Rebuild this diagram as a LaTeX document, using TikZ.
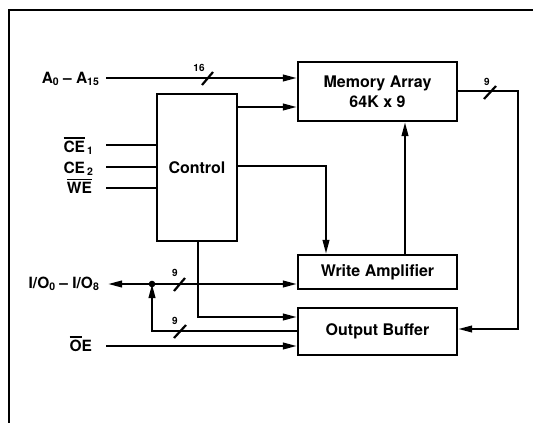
\documentclass[tikz,border=0pt]{standalone}
\usepackage{fontspec}
\setmainfont{TeX Gyre Heros}
\usetikzlibrary{arrows.meta,calc}
\newcommand{\ovl}[1]{\setbox0\hbox{#1}\makebox[0pt][l]{\rule[\dimexpr\ht0+1.6pt\relax]{\wd0}{1.5pt}}\box0}
\newcommand{\sbs}[1]{\raisebox{-0.35ex}{\fontsize{10.5}{10}\selectfont #1}}
\begin{document}
\begin{tikzpicture}[x=1pt,y=-1pt,line width=2.2pt,
  box/.style={draw,line width=2.2pt,inner sep=0pt,font=\fontsize{16}{20}\selectfont\bfseries,align=center},
  arr/.style={-{Triangle[length=14pt,width=6.5pt]}},
  lbl/.style={font=\fontsize{15.5}{18}\selectfont\bfseries,inner sep=0pt,anchor=base east},
  num/.style={font=\fontsize{10}{10}\selectfont\bfseries,inner sep=0pt}]
\useasboundingbox (0,0) rectangle (533,423);
% frame (top and left edges only)
\draw (9,423) -- (9,10) -- (533,10);
% blocks
\node[box,minimum width=159pt,minimum height=59pt] (mem) at (377.5,91.5) {Memory Array\\64K x 9};
\node[box,minimum width=80pt,minimum height=147pt] (ctrl) at (197,167.5) {Control};
\node[box,minimum width=159pt,minimum height=34pt] (wamp) at (377.5,272) {Write Amplifier};
\node[box,minimum width=159pt,minimum height=47pt] (obuf) at (377.5,331.5) {Output Buffer};
% left labels
\node[lbl] (la) at (100,83) {A\sbs{0} – A\sbs{15}};
\node[lbl] (lce1) at (94,152) {\ovl{CE}\hspace{2pt}\sbs{1}};
\node[lbl] (lce2) at (94,173) {CE\hspace{2pt}\sbs{2}};
\node[lbl] (lwe) at (93,193) {\ovl{WE}};
\node[lbl] (lio) at (100,288) {I/O\sbs{0} – I/O\sbs{8}};
\node[lbl] (loe) at (93,351) {\ovl{O}E};
% free ends
\coordinate (ia) at (106,78);
\coordinate (ice1) at (106,145);
\coordinate (ice2) at (106,167);
\coordinate (iwe) at (106,188);
\coordinate (iio) at (108,284);
\coordinate (ioe) at (106,346);
\coordinate (dot) at (152,284);
% address bus
\draw[arr] (ia) -- (ia -| mem.west);
\draw (202,85) -- (213,72);
\node[num] (n16) at (199,68) {16};
% control inputs
\draw (ice1) -- (ice1 -| ctrl.west);
\draw (ice2) -- (ice2 -| ctrl.west);
\draw (iwe) -- (iwe -| ctrl.west);
% control to memory
\coordinate (c1) at (237,107);
\draw[arr] (c1) -- (c1 -| mem.west);
% control to write amplifier
\coordinate (c2) at (237,166);
\coordinate (c2b) at (326,166);
\draw[arr] (c2) -- (c2b) -- (c2b |- wamp.north);
% write amp to memory
\coordinate (w1) at (405,255);
\draw[arr] (w1) -- (w1 |- mem.south);
% memory output to output buffer
\coordinate (m1) at (457,91);
\coordinate (m2) at (518,91);
\coordinate (m3) at (518,329);
\draw[arr] (m1) -- (m2) -- (m3) -- (m3 -| obuf.east);
\draw (484,99) -- (496,86);
\node[num] (n9a) at (487,82) {9};
% I/O bus
\draw[{Triangle[length=14pt,width=6.5pt]}-{Triangle[length=14pt,width=6.5pt]}] (iio) -- (iio -| wamp.west);
\fill (dot) circle (3.3pt);
\draw (174,291) -- (185,278);
\node[num] (n9b) at (175,273) {9};
% control to output buffer
\coordinate (c3) at (198,241);
\coordinate (c3b) at (198,317);
\draw[arr] (c3) -- (c3b) -- (c3b -| obuf.west);
% output buffer back to I/O
\coordinate (f1) at (298,331);
\coordinate (f2) at (152,331);
\draw[arr] (f1) -- (f2) -- (dot);
\draw (174,338) -- (186,325);
\node[num] (n9c) at (175,321) {9};
% OE
\draw[arr] (ioe) -- (ioe -| obuf.west);
\end{tikzpicture}
\end{document}
